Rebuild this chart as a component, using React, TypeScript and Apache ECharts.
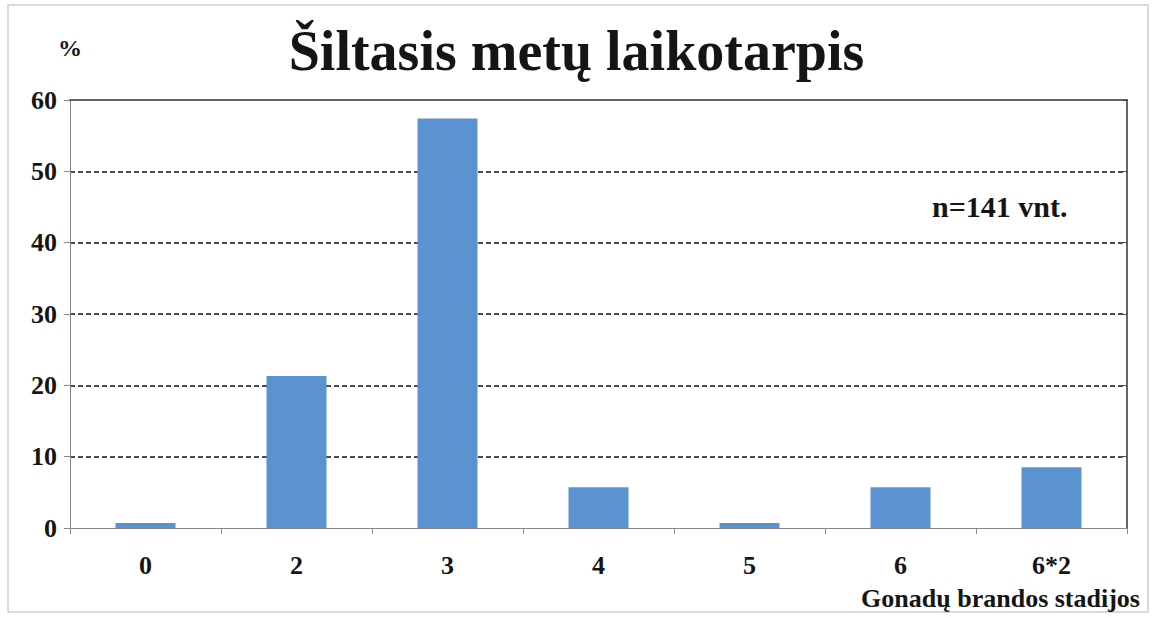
import React, { useEffect, useRef } from "react";
import * as echarts from "echarts";

const categories = ["0", "2", "3", "4", "5", "6", "6*2"];
const percentValues = [0.7, 21.3, 57.4, 5.7, 0.7, 5.7, 8.5];
const titleText = "Šiltasis metų laikotarpis";
const xAxisTitle = "Gonadų brandos stadijos";
const yAxisUnit = "%";
const sampleNote = "n=141 vnt.";

const FONT = "Liberation Serif";

export default function App() {
  const ref = useRef<HTMLDivElement>(null);
  useEffect(() => {
    if (!ref.current) return;
    const chart = echarts.init(ref.current, null, { renderer: "svg" });
    chart.setOption({
      animation: false,
      backgroundColor: "#ffffff",
      title: {
        text: titleText,
        left: "center",
        top: 18,
        textStyle: { fontFamily: FONT, fontWeight: "bold", fontSize: 56, color: "#151515" },
      },
      grid: { left: 70, right: 26, top: 100, bottom: 90, containLabel: false },
      xAxis: [
        {
          type: "category",
          data: categories,
          boundaryGap: true,
          axisLine: { show: true, lineStyle: { color: "#8a8a8a", width: 1 } },
          axisTick: { show: true, length: 6, lineStyle: { color: "#8a8a8a" } },
          axisLabel: {
            fontFamily: FONT,
            fontWeight: "bold",
            fontSize: 26,
            color: "#151515",
            margin: 24,
          },
          name: xAxisTitle,
          nameLocation: "end",
          nameGap: 0,
          nameTextStyle: {
            fontFamily: FONT,
            fontWeight: "bold",
            fontSize: 26,
            color: "#151515",
            align: "right",
            verticalAlign: "top",
            padding: [57, -13, 0, 0],
          },
          splitLine: { show: false },
          z: 5,
        },
        {
          type: "category",
          position: "top",
          data: categories,
          axisLine: { show: true, onZero: false, lineStyle: { color: "#333", width: 1.5 } },
          axisTick: { show: false },
          axisLabel: { show: false },
          z: 5,
        },
      ],
      yAxis: [
        {
          type: "value",
          min: 0,
          max: 60,
          interval: 10,
          axisLine: { show: true, lineStyle: { color: "#8a8a8a", width: 1 } },
          axisTick: { show: true, length: 6, lineStyle: { color: "#8a8a8a" } },
          axisLabel: {
            fontFamily: FONT,
            fontWeight: "bold",
            fontSize: 26,
            color: "#151515",
            margin: 13,
          },
          splitLine: {
            show: true,
            showMinLine: false,
            showMaxLine: false,
            lineStyle: { color: "#111", type: [5, 3], width: 1.5 },
          },
          name: yAxisUnit,
          nameLocation: "end",
          nameGap: 40,
          nameTextStyle: {
            fontFamily: FONT,
            fontWeight: "bold",
            fontSize: 24,
            color: "#151515",
            align: "center",
          },
        },
        {
          type: "value",
          position: "right",
          min: 0,
          max: 60,
          interval: 10,
          axisLine: { show: true, onZero: false, lineStyle: { color: "#333", width: 1.5 } },
          axisTick: { show: true, length: 4, inside: true, lineStyle: { color: "#555" } },
          axisLabel: { show: false },
          splitLine: { show: false },
        },
      ],
      graphic: [
        {
          type: "rect",
          shape: { x: 8, y: 5, width: 1140, height: 607 },
          style: { fill: "none", stroke: "#d0d0d0", lineWidth: 1.5 },
          silent: true,
          z: -1,
        },
        {
          type: "text",
          left: 932,
          top: 191,
          style: {
            text: sampleNote,
            fontFamily: FONT,
            fontWeight: "bold",
            fontSize: 30,
            fill: "#151515",
          },
        },
      ],
      series: [
        {
          type: "bar",
          data: percentValues,
          barWidth: 60,
          itemStyle: { color: "#5b93d1" },
          z: 3,
        },
      ],
    });
    return () => chart.dispose();
  }, []);
  return <div ref={ref} style={{ width: 1153, height: 618, position: "absolute", left: 0, top: 0 }} />;
}
